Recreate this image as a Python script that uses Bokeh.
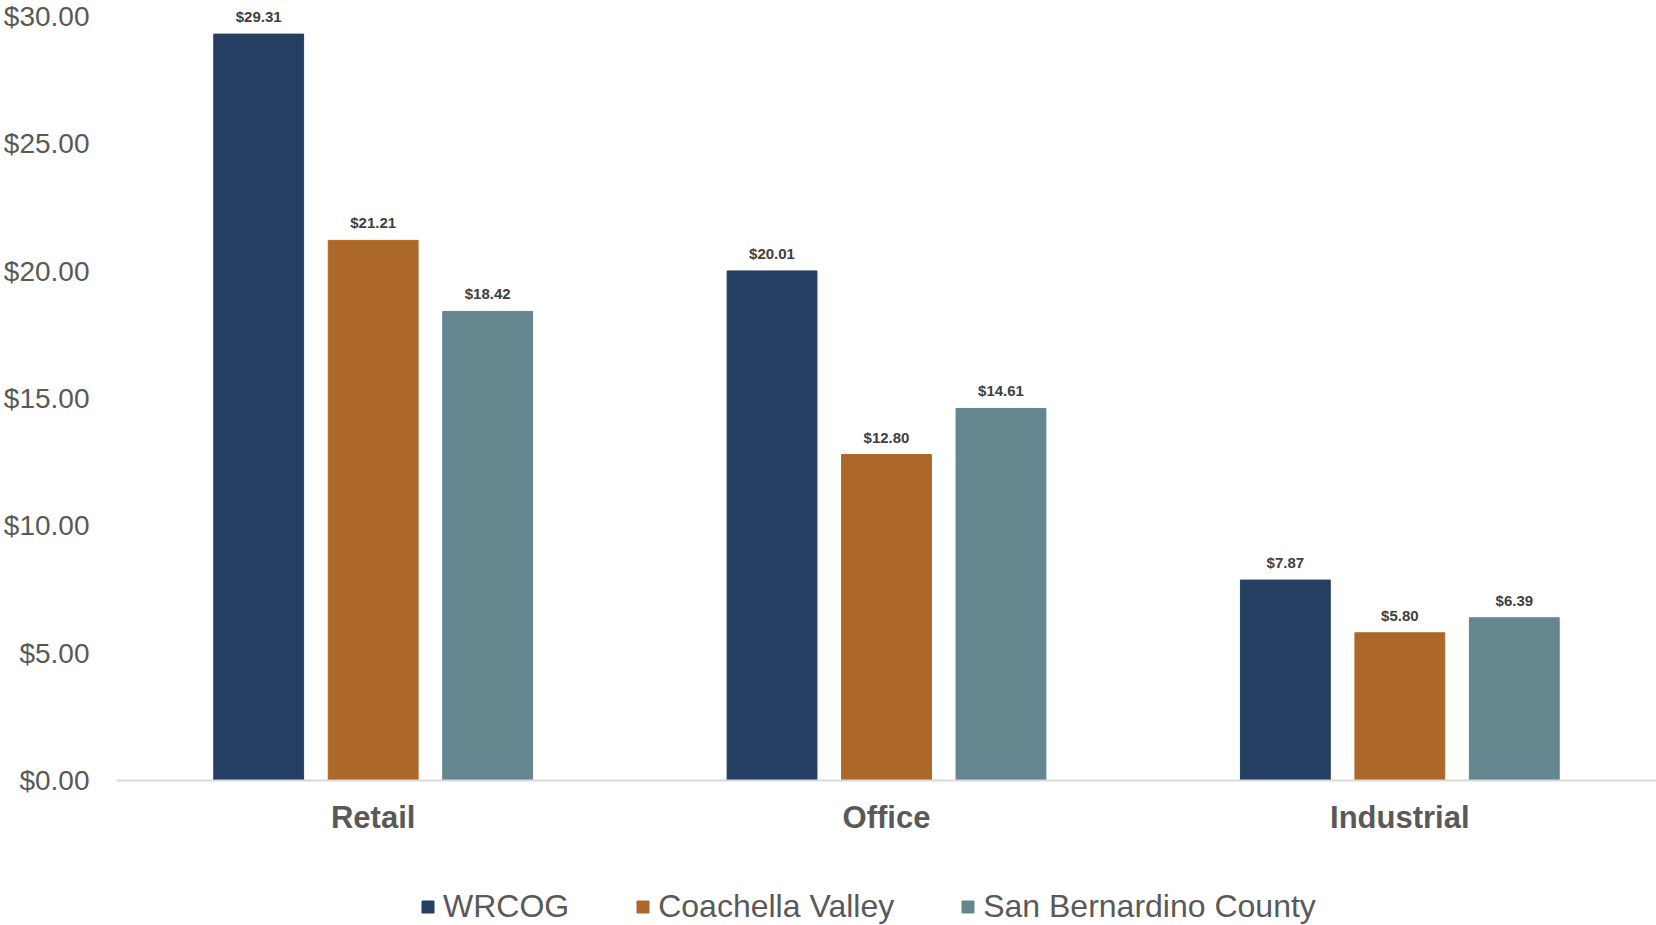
from bokeh.plotting import figure
from bokeh.models import (ColumnDataSource, FactorRange, Range1d, Legend, LegendItem,
                          NumeralTickFormatter, SingleIntervalTicker)
from bokeh.layouts import column
from bokeh.transform import dodge
from bokeh.core.properties import value
from bokeh.embed import file_html
from bokeh.resources import INLINE

categories = ["Retail", "Office", "Industrial"]
series_names = ["WRCOG", "Coachella Valley", "San Bernardino County"]
wrcog = [29.31, 20.01, 7.87]
coachella = [21.21, 12.80, 5.80]
san_bernardino = [18.42, 14.61, 6.39]
colors = ["#243F62", "#AD6728", "#64868F"]

FONT = "Liberation Sans"

src = ColumnDataSource(dict(
    cat=categories,
    wrcog=wrcog,
    coachella=coachella,
    sanb=san_bernardino,
    wrcog_lbl=["${:.2f}".format(v) for v in wrcog],
    coachella_lbl=["${:.2f}".format(v) for v in coachella],
    sanb_lbl=["${:.2f}".format(v) for v in san_bernardino],
))

p = figure(width=1656, height=848, output_backend="svg", toolbar_location=None,
           x_range=FactorRange(*categories, range_padding=0),
           y_range=Range1d(0, 30.63))
p.min_border_left = 116
p.min_border_right = 0
p.min_border_top = 0
p.min_border_bottom = 68
p.outline_line_color = None
p.xgrid.grid_line_color = None
p.ygrid.grid_line_color = None

pitch = 0.223
bw = 0.175
cols = ["wrcog", "coachella", "sanb"]
offsets = [-pitch, 0.0, pitch]
for col, off, c in zip(cols, offsets, colors):
    p.vbar(x=dodge("cat", off, range=p.x_range), top=col, width=bw, source=src,
           fill_color=c, line_color=c, line_width=1)
    p.text(x=dodge("cat", off, range=p.x_range), y=col, text=col + "_lbl", source=src,
           text_align="center", text_baseline="bottom", y_offset=-9,
           text_font=value(FONT), text_font_size="15px", text_font_style="bold",
           text_color="#404040")

# axes
p.yaxis.ticker = SingleIntervalTicker(interval=5)
p.yaxis.formatter = NumeralTickFormatter(format="$0.00")
p.yaxis.axis_line_color = None
p.yaxis.major_tick_line_color = None
p.yaxis.minor_tick_line_color = None
p.yaxis.major_label_text_font = FONT
p.yaxis.major_label_text_font_size = "28px"
p.yaxis.major_label_text_color = "#595959"
p.yaxis.major_label_standoff = 21

p.xaxis.axis_line_color = "#D9D9D9"
p.xaxis.axis_line_width = 2
p.xaxis.major_tick_line_color = None
p.xaxis.minor_tick_line_color = None
p.xaxis.major_label_text_font = FONT
p.xaxis.major_label_text_font_size = "31px"
p.xaxis.major_label_text_font_style = "bold"
p.xaxis.major_label_text_color = "#595959"
p.xaxis.major_label_standoff = 13

# legend strip below the chart (its keys come from off-range placeholder bars)
lg = figure(width=1656, height=77, output_backend="svg", toolbar_location=None,
            x_axis_type=None, y_axis_type=None, x_range=Range1d(0, 1), y_range=Range1d(0, 1))
lg.min_border = 0
lg.outline_line_color = None
lg.xgrid.grid_line_color = None
lg.ygrid.grid_line_color = None
items = []
for n, c in zip(series_names, colors):
    r = lg.vbar(x=[0.5], bottom=[-6], top=[-5], width=0.1, fill_color=c, line_color=c)
    items.append(LegendItem(label=n, renderers=[r]))
legend = Legend(items=items, orientation="horizontal", location=(304, 0))
legend.border_line_color = None
legend.background_fill_alpha = 0
legend.padding = 0
legend.margin = 0
legend.spacing = 66
legend.label_standoff = 8
legend.glyph_width = 15
legend.glyph_height = 15
legend.label_text_font = FONT
legend.label_text_font_size = "32px"
legend.label_text_color = "#595959"
lg.add_layout(legend)

layout = column(p, lg, spacing=0)
open("out.html", "w").write(file_html(layout, INLINE))
